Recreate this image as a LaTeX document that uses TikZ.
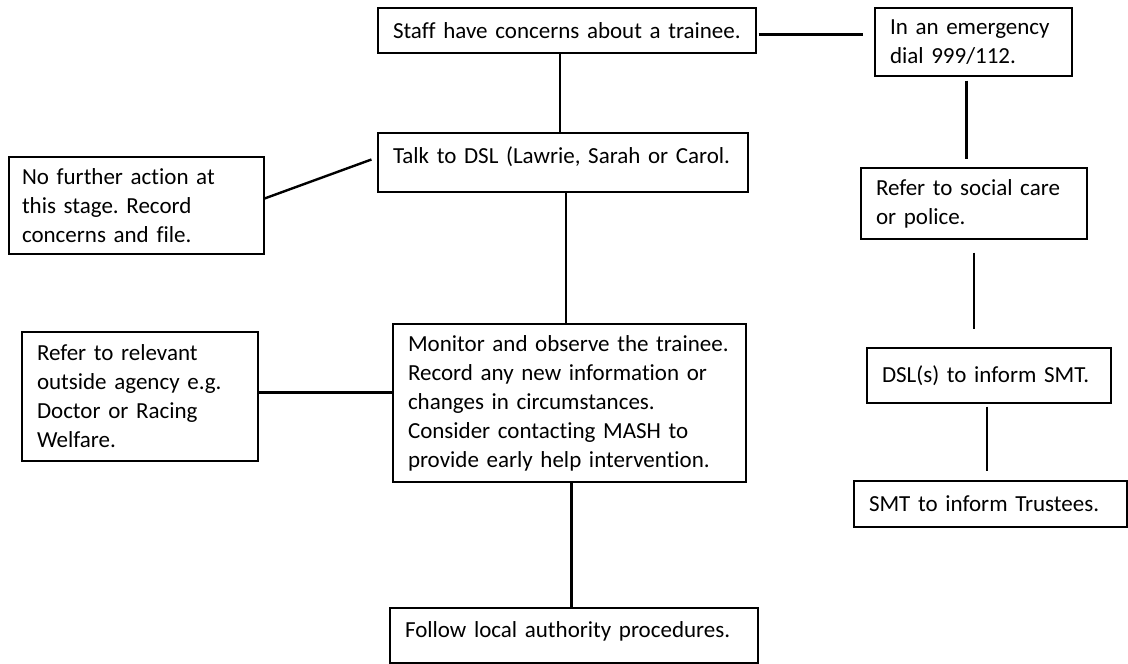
\documentclass[tikz,border=0pt]{standalone}
\usepackage{fontspec}
\setmainfont{Carlito}[Ligatures=NoCommon]
\frenchspacing
\usepackage{tikz}
\usetikzlibrary{shapes,arrows}
\newcommand{\boxfont}{\fontsize{23}{29}\selectfont}
\tikzstyle{block} = [rectangle, draw, line width=1.1pt, align=left, inner xsep=15pt, inner ysep=0pt, font=\boxfont]
\tikzstyle{line} = [draw, line width=2.4pt]

\begin{document}
\begin{tikzpicture}[x=1pt,y=1pt]
\useasboundingbox (0,0) rectangle (1128,-664);
\node [block, text width=348pt, minimum height=45pt] (staff) at (567,-30.5) {Staff have concerns about a trainee.};
\node [block, text width=167pt, minimum height=68pt] (emergency) at (973.5,-42) {In an emergency\\dial 999/112.};
\node [block, text width=340pt, minimum height=59pt, text depth=15pt] (talk-dsl) at (563,-162.5) {Talk to DSL (Lawrie, Sarah or Carol.};
\node [block, inner xsep=13pt, text width=229pt, minimum height=97pt] (no-action) at (136.5,-205.5) {No further action at\\this stage. Record\\concerns and file.};
\node [block, text width=206pt, minimum height=129pt] (refer-agency) at (140,-396.5) {Refer to relevant\\outside agency e.g.\\Doctor or Racing\\Welfare.};
\node [block, text width=323pt, minimum height=158pt] (monitor) at (569.5,-403) {Monitor and observe the trainee.\\Record any new information or\\changes in circumstances.\\Consider contacting MASH to\\provide early help intervention.};
\node [block, text width=338pt, minimum height=55pt, text depth=12pt] (follow-la) at (574,-635.5) {Follow local authority procedures.};
\node [block, text width=196pt, minimum height=71pt] (social-care) at (974,-203.5) {Refer to social care\\or police.};
\node [block, text width=214pt, minimum height=55pt] (dsl-smt) at (989,-375.5) {DSL(s) to inform SMT.};
\node [block, text width=243pt, minimum height=46pt] (smt-trustees) at (990.5,-504) {SMT to inform Trustees.};
% main route
\path [line] ([xshift=-7pt]staff.south) -- ([xshift=-7pt]staff.south |- talk-dsl.north);
\path [line] ([xshift=3pt]talk-dsl.south) -- ([xshift=3pt]talk-dsl.south |- monitor.north);
\path [line] ([xshift=2pt]monitor.south) -- ([xshift=2pt]monitor.south |- follow-la.north);
\path [line] ([yshift=7pt]no-action.east) -- ([xshift=-6pt,yshift=3pt]talk-dsl.west);
\path [line] ([yshift=4pt]refer-agency.east) -- ([yshift=4pt]refer-agency.east -| monitor.west);
% emergency route
\path [line, shorten <=2pt, shorten >=11pt] ([yshift=-4pt]staff.east) -- ([yshift=-4pt]staff.east -| emergency.west);
\path [line, shorten <=4pt, shorten >=8pt] ([xshift=-7pt]emergency.south) -- ([xshift=-7pt]emergency.south |- social-care.north);
\path [line, shorten <=13pt, shorten >=18pt] (social-care.south) -- (social-care.south |- dsl-smt.north);
\path [line, shorten <=3pt, shorten >=9pt] ([xshift=-2pt]dsl-smt.south) -- ([xshift=-2pt]dsl-smt.south |- smt-trustees.north);
\end{tikzpicture}
\end{document}
